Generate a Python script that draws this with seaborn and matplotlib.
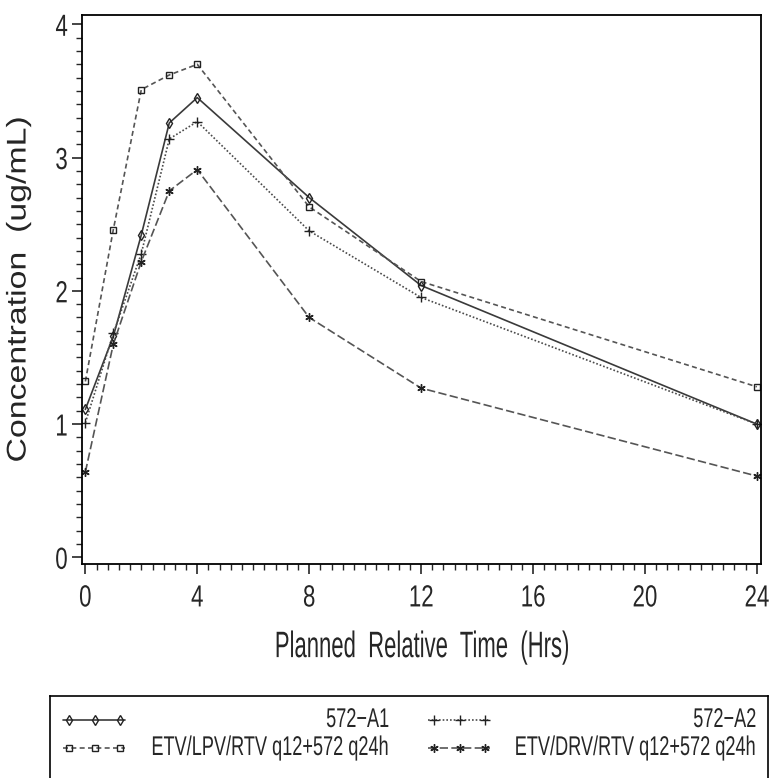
import numpy as np
import pandas as pd
import matplotlib
matplotlib.use('Agg')
import matplotlib.pyplot as plt
import matplotlib.patheffects as pe
from matplotlib.transforms import Affine2D
from matplotlib.ticker import MultipleLocator
from matplotlib.lines import Line2D
import seaborn as sns

# Data
times = [0, 1, 2, 3, 4, 8, 12, 24]
a1 = [1.11, 1.66, 2.42, 3.26, 3.45, 2.70, 2.04, 1.00]
a2 = [1.01, 1.68, 2.28, 3.14, 3.27, 2.45, 1.95, 1.00]
lpv = [1.32, 2.46, 3.51, 3.62, 3.70, 2.63, 2.07, 1.28]
drv = [0.64, 1.60, 2.22, 2.75, 2.91, 1.80, 1.27, 0.61]
labels = ['572\u2212A1', '572\u2212A2',
          'ETV/LPV/RTV q12+572 q24h', 'ETV/DRV/RTV q12+572 q24h']


class Squeeze(pe.AbstractPathEffect):
    # scale glyphs along the baseline, around the aligned edge
    def __init__(self, sx, frac=0.5):
        super().__init__()
        self.sx = sx
        self.frac = frac

    def draw_path(self, renderer, gc, tpath, affine, rgbFace=None):
        ext = tpath.get_extents()
        xa = ext.x0 + self.frac * ext.width
        t = Affine2D().translate(-xa, 0).scale(self.sx, 1).translate(xa, 0) + affine
        renderer.draw_path(gc, tpath, t, rgbFace)


sns.set_style('white')
plt.rcParams['font.family'] = ['Liberation Sans', 'DejaVu Sans']

fig = plt.figure(figsize=(7.7, 7.78), dpi=100)
ax = fig.add_axes([82 / 770, 1 - 564 / 778, 679 / 770, 549 / 778])

styles = {
    labels[0]: dict(marker='d', ls='-', color='#3a3a3a', ms=5),
    labels[1]: dict(marker='+', ls=(0, (1, 1.2)), color='#4a4a4a', ms=7),
    labels[2]: dict(marker='s', ls=(0, (3, 2)), color='#555555', ms=5),
    labels[3]: dict(marker=(6, 2, 0), ls=(0, (5, 2)), color='#555555', ms=6),
}
series = [a1, a2, lpv, drv]

for lab, vals in zip(labels, series):
    st = styles[lab]
    df = pd.DataFrame({'time': times, 'conc': vals})
    sns.lineplot(data=df, x='time', y='conc', ax=ax, color=st['color'],
                 linestyle=st['ls'], marker=st['marker'], markersize=st['ms'],
                 markerfacecolor='none', markeredgecolor='#222222',
                 markeredgewidth=1.0, linewidth=1.2, legend=False)

ax.set_xlim(-0.12, 24.15)
ax.set_ylim(-0.05, 4.07)
ax.xaxis.set_major_locator(MultipleLocator(4))
ax.xaxis.set_minor_locator(MultipleLocator(0.4))
ax.yaxis.set_major_locator(MultipleLocator(1))
ax.yaxis.set_minor_locator(MultipleLocator(0.1))
ax.tick_params(axis='both', which='major', direction='out', length=7, width=1.2,
               labelsize=22, bottom=True, left=True, top=False, right=False)
ax.tick_params(axis='both', which='minor', direction='out', length=4, width=1.0,
               bottom=True, left=True, top=False, right=False)
ax.tick_params(axis='x', pad=7)
ax.tick_params(axis='y', pad=3)
for s in ax.spines.values():
    s.set_color('black')
    s.set_linewidth(1.3)
for t in ax.get_xticklabels():
    t.set_path_effects([Squeeze(0.73, 0.5)])
for t in ax.get_yticklabels():
    t.set_path_effects([Squeeze(0.73, 1.0)])

ax.set_xlabel('Planned  Relative  Time  (Hrs)', fontsize=26.5, labelpad=12)
ax.set_ylabel('Concentration  (ug/mL)', fontsize=19.5, labelpad=14)
ax.xaxis.label.set_path_effects([Squeeze(0.6, 0.5)])
ax.yaxis.label.set_path_effects([Squeeze(1.25, 0.5)])

# legend box below the plot
lax = fig.add_axes([50 / 770, -0.01, 718 / 770, 1 - 696 / 778 + 0.01])
lax.set_xlim(50, 768)
lax.set_ylim(778 + 0.01 * 778, 696)
lax.set_xticks([])
lax.set_yticks([])
for s in lax.spines.values():
    s.set_color('black')
    s.set_linewidth(1.2)

leg_pos = [(63, 125, 390, 720), (428, 490, 757, 720),
           (63, 125, 390, 748), (428, 490, 757, 748)]
for lab, (x0, x1, xt, y) in zip(labels, leg_pos):
    st = styles[lab]
    xs = np.linspace(x0 + 6, x1 - 5, 3)
    lax.add_line(Line2D([x0, x1], [y, y], color=st['color'], ls=st['ls'], lw=1.2))
    lax.add_line(Line2D(xs, [y] * 3, ls='none', marker=st['marker'], ms=st['ms'],
                        mfc='none', mec='#222222', mew=1.0))
    txt = lax.text(xt, y, lab, ha='right', va='center', fontsize=19.5)
    txt.set_path_effects([Squeeze(0.67, 1.0)])

fig.savefig('out.png', dpi=100)
